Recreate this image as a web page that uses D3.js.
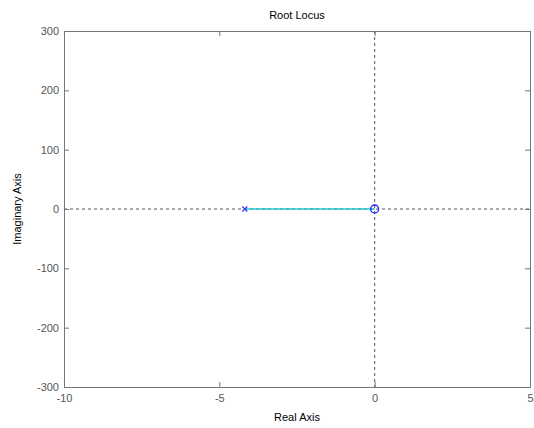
<!DOCTYPE html>
<html><head><meta charset="utf-8">
<script src="https://cdn.jsdelivr.net/npm/d3@7"></script>
<style>body{margin:0;background:#fff}text{font-family:Arial,"Liberation Sans",sans-serif}</style>
</head><body><svg id="c" width="534" height="428"></svg>
<script>
const xTicks = [-10, -5, 0, 5];
const yTicks = [-300, -200, -100, 0, 100, 200, 300];
const poles = [{re: -4.18, im: 0}];
const zeros = [{re: 0, im: 0}];
const locusRe = [-4.18, 0];
const locusIm = [0, 0];

const svg = d3.select('#c');
const L = 64, R = 530, T = 31, B = 387;
const x = d3.scaleLinear().domain([-10, 5]).range([L, R]);
const y = d3.scaleLinear().domain([-300, 300]).range([B, T]);
const fmt = d => String(d);

// dashed axes lines
svg.append('line').attr('x1', L).attr('x2', R).attr('y1', y(0)).attr('y2', y(0))
  .attr('stroke', '#555').attr('stroke-dasharray', '3,3').attr('stroke-width', 1);
svg.append('line').attr('x1', x(0)).attr('x2', x(0)).attr('y1', T).attr('y2', B)
  .attr('stroke', '#555').attr('stroke-dasharray', '3,3').attr('stroke-width', 1);

// locus
const pts = locusRe.map((r, i) => [x(r), y(locusIm[i])]);
svg.append('path').attr('d', d3.line()(pts)).attr('stroke', '#20c8d0').attr('stroke-width', 1.5).attr('fill', 'none');

// poles
poles.forEach(p => {
  const cx = x(p.re), cy = y(p.im), s = 2.5;
  svg.append('path').attr('d', `M${cx-s},${cy-s}L${cx+s},${cy+s}M${cx-s},${cy+s}L${cx+s},${cy-s}`)
    .attr('stroke', '#3333ff').attr('stroke-width', 1.2);
});
zeros.forEach(z => {
  svg.append('circle').attr('cx', x(z.re)).attr('cy', y(z.im)).attr('r', 4)
    .attr('fill', 'none').attr('stroke', '#2222ff').attr('stroke-width', 1.3);
});

// axes
const gx = svg.append('g').attr('transform', `translate(0,${B})`)
  .call(d3.axisBottom(x).tickValues(xTicks).tickSize(-5).tickPadding(7).tickFormat(fmt));
const gxt = svg.append('g').attr('transform', `translate(0,${T})`)
  .call(d3.axisTop(x).tickValues(xTicks).tickSize(-5).tickFormat(''));
const gy = svg.append('g').attr('transform', `translate(${L},0)`)
  .call(d3.axisLeft(y).tickValues(yTicks).tickSize(-5).tickPadding(5).tickFormat(fmt));
const gyr = svg.append('g').attr('transform', `translate(${R},0)`)
  .call(d3.axisRight(y).tickValues(yTicks).tickSize(-5).tickFormat(''));
[gx, gxt, gy, gyr].forEach(g => {
  g.selectAll('.domain').attr('stroke', '#777');
  g.selectAll('.tick line').attr('stroke', '#777');
  g.selectAll('text').style('fill', '#555').style('font-size', '11px').style('font-family', 'Arial,"Liberation Sans",sans-serif');
});

svg.append('text').attr('x', (L + R) / 2).attr('y', 19).attr('text-anchor', 'middle')
  .style('font-size', '11px').style('fill', '#000').text('Root Locus');
svg.append('text').attr('x', (L + R) / 2).attr('y', 421).attr('text-anchor', 'middle')
  .style('font-size', '11px').style('fill', '#000').text('Real Axis');
svg.append('text').attr('transform', `translate(21,${(T + B) / 2}) rotate(-90)`).attr('text-anchor', 'middle')
  .style('font-size', '11px').style('fill', '#000').text('Imaginary Axis');
</script></body></html>
